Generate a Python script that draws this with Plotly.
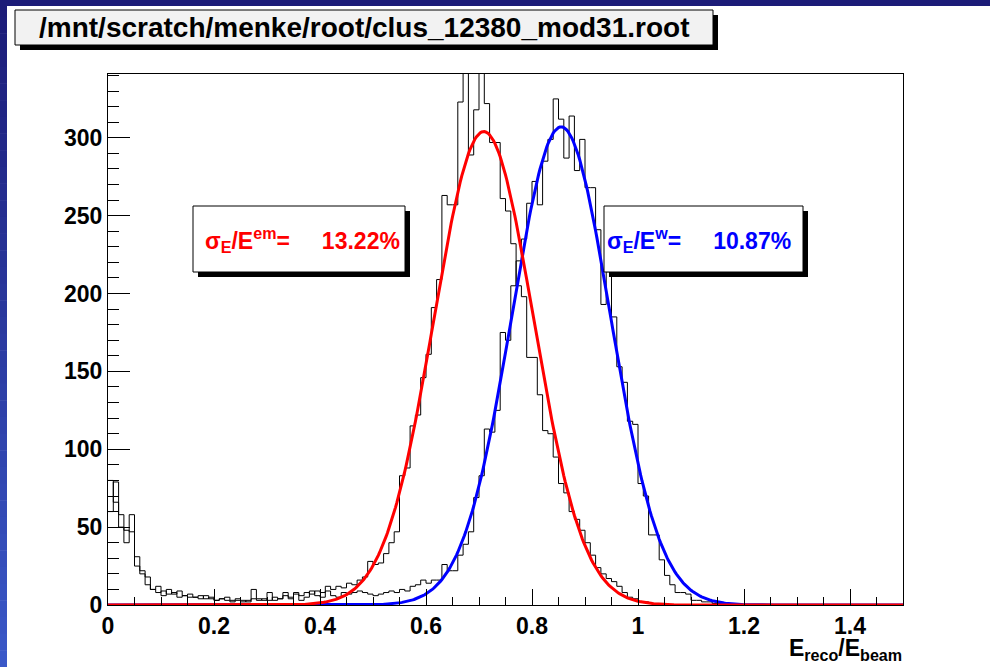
import numpy as np
import plotly.graph_objects as go

# ---------------- data ----------------
bin_width = 0.01
x_range = [0.0, 1.5]
y_range = [0, 341]

# E_reco/E_beam histogram, em scale (left peak)
em_counts = [
    80, 66, 58, 48, 47, 25, 20, 13, 10, 8,
    9, 7, 8, 5, 6, 5, 5, 4, 6, 4,
    3, 4, 3, 2, 3, 3, 2, 4, 3, 4,
    3, 5, 4, 6, 5, 7, 6, 8, 7, 9,
    8, 12, 10, 12, 11, 14, 13, 16, 18, 28,
    26, 27, 33, 40, 47, 83, 88, 115, 122, 146,
    161, 191, 209, 263, 257, 257, 323, 360, 289, 318,
    355, 322, 297, 297, 261, 253, 232, 205, 198, 159,
    159, 135, 112, 110, 95, 78, 72, 60, 55, 48,
    40, 32, 24, 20, 17, 15, 12, 8, 5, 4,
    2, 2, 1, 1, 1, 0, 0, 0, 0, 0,
    0, 0, 0, 0, 0, 0, 0, 0, 0, 0,
    0, 0, 0, 0, 0, 0, 0, 0, 0, 0,
    0, 0, 0, 0, 0, 0, 0, 0, 0, 0,
    0, 0, 0, 0, 0, 0, 0, 0, 0, 0,
]

# E_reco/E_beam histogram, weighted scale (right peak)
w_counts = [
    60, 79, 50, 40, 58, 31, 22, 18, 10, 12,
    6, 10, 7, 9, 6, 7, 5, 6, 4, 5,
    3, 4, 5, 3, 4, 2, 3, 10, 4, 3,
    8, 3, 4, 8, 4, 8, 3, 5, 9, 6,
    5, 9, 6, 5, 8, 7, 8, 9, 8, 7,
    6, 7, 8, 9, 8, 10, 9, 12, 13, 16,
    14, 16, 16, 26, 22, 22, 32, 39, 47, 69,
    83, 113, 111, 125, 175, 170, 205, 221, 235, 258,
    272, 257, 285, 299, 325, 312, 287, 314, 279, 299,
    268, 268, 241, 193, 214, 185, 153, 143, 118, 116,
    78, 70, 45, 45, 29, 19, 13, 8, 8, 7,
    3, 3, 2, 2, 1, 1, 0, 0, 0, 0,
    0, 0, 0, 0, 0, 0, 0, 0, 0, 0,
    0, 0, 0, 0, 0, 0, 0, 0, 0, 0,
    0, 0, 0, 0, 0, 0, 0, 0, 0, 0,
]

# Gaussian fit parameters (amplitude, mean, sigma)
em_fit = (304.0, 0.709, 0.0937)
w_fit = (307.0, 0.855, 0.0929)

title_text = "/mnt/scratch/menke/root/clus_12380_mod31.root"
em_label = "σ<sub>E</sub>/E<sup>em</sup>=\u00a0\u00a0\u00a0\u00a0\u00a013.22%"
w_label = "σ<sub>E</sub>/E<sup>w</sup>=\u00a0\u00a0\u00a0\u00a0\u00a010.87%"
x_title = "E<sub>reco</sub>/E<sub>beam</sub>"

# ---------------- layout geometry (pixels) ----------------
W, H = 990, 667
L, R, T, B = 108, 903, 74, 605


def px(xp):
    return (xp - L) / (R - L)


def py(yp):
    return (B - yp) / (B - T)


edges = [round(i * bin_width, 4) for i in range(len(em_counts) + 1)]


def step(counts):
    return edges, list(counts) + [counts[-1]]


def gauss(p, xs):
    a, m, s = p
    return a * np.exp(-0.5 * ((xs - m) / s) ** 2)


xs = np.linspace(x_range[0], x_range[1], 601)

fig = go.Figure()
for counts in (em_counts, w_counts):
    ex, ey = step(counts)
    fig.add_trace(go.Scatter(x=ex, y=ey, mode="lines", line_shape="hv",
                             line=dict(color="black", width=1), showlegend=False,
                             hoverinfo="skip"))
fig.add_trace(go.Scatter(x=xs, y=gauss(w_fit, xs), mode="lines",
                         line=dict(color="#0000ff", width=3), showlegend=False))
fig.add_trace(go.Scatter(x=xs, y=gauss(em_fit, xs), mode="lines",
                         line=dict(color="#ff0000", width=3), showlegend=False))

shapes = []
# left gradient strip and top strip
n = 40
c0 = np.array([28, 28, 120])
c1 = np.array([58, 88, 200])
for i in range(n):
    c = c0 + (c1 - c0) * i / (n - 1)
    y0 = H * i / n
    y1 = H * (i + 1) / n + 0.5
    shapes.append(dict(type="rect", xref="paper", yref="paper",
                       x0=px(0), x1=px(7), y0=py(y0), y1=py(y1),
                       fillcolor="rgb(%d,%d,%d)" % tuple(c.astype(int)),
                       line=dict(width=0), layer="above"))
shapes.append(dict(type="rect", xref="paper", yref="paper",
                   x0=px(0), x1=px(W), y0=py(0), y1=py(6),
                   fillcolor="rgb(28,28,120)", line=dict(width=0), layer="above"))


def boxed(x0, y0, x1, y1, fill, off=5):
    shapes.append(dict(type="rect", xref="paper", yref="paper",
                       x0=px(x0 + off), x1=px(x1 + off), y0=py(y0 + off), y1=py(y1 + off),
                       fillcolor="black", line=dict(width=0), layer="above"))
    shapes.append(dict(type="rect", xref="paper", yref="paper",
                       x0=px(x0), x1=px(x1), y0=py(y0), y1=py(y1),
                       fillcolor=fill, line=dict(color="black", width=1), layer="above"))


boxed(15, 10, 713, 45, "#f2f2f2")
boxed(193, 206, 405, 272, "white")
boxed(604, 206, 803, 272, "white")

annotations = [
    dict(text=title_text, x=px(364), y=py(28), xref="paper", yref="paper",
         showarrow=False, xanchor="center", yanchor="middle",
         font=dict(family="Liberation Sans", size=28, color="black", weight="bold")),
    dict(text=em_label, x=px(203), y=py(240), xref="paper", yref="paper",
         showarrow=False, xanchor="left", yanchor="middle",
         font=dict(family="Liberation Sans", size=23, color="#ff0000", weight="bold")),
    dict(text=w_label, x=px(605), y=py(240), xref="paper", yref="paper",
         showarrow=False, xanchor="left", yanchor="middle",
         font=dict(family="Liberation Sans", size=23, color="#0000ff", weight="bold")),
    dict(text=x_title, x=px(904), y=py(666), xref="paper", yref="paper",
         showarrow=False, xanchor="right", yanchor="bottom",
         font=dict(family="Liberation Sans", size=23, color="black", weight="bold")),
]

tickfont = dict(family="Liberation Sans", size=23, color="black", weight="bold")
fig.update_layout(
    width=W, height=H,
    margin=dict(l=L, r=W - R, t=T, b=H - B, pad=0),
    paper_bgcolor="white", plot_bgcolor="white",
    shapes=shapes, annotations=annotations,
    xaxis=dict(range=x_range, dtick=0.2, tick0=0, ticks="inside", ticklen=16,
               tickwidth=1, tickcolor="black", showline=True, mirror=True,
               linecolor="black", linewidth=1, showgrid=False, zeroline=False,
               tickfont=tickfont,
               minor=dict(dtick=0.05, ticks="inside", ticklen=8, tickcolor="black",
                          tickwidth=1, showgrid=False)),
    yaxis=dict(range=y_range, dtick=50, tick0=0, ticks="inside", ticklen=22,
               tickwidth=1, tickcolor="black", showline=True, mirror=True,
               linecolor="black", linewidth=1, showgrid=False, zeroline=False,
               tickfont=tickfont,
               minor=dict(dtick=10, ticks="inside", ticklen=11, tickcolor="black",
                          tickwidth=1, showgrid=False)),
)

fig.write_html("out.html", config={"displayModeBar": False},
               post_script="document.body.style.margin='0';document.body.style.overflow='hidden';")
